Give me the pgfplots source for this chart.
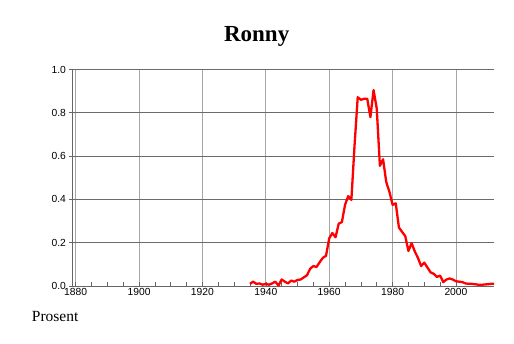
\documentclass[border=0pt]{standalone}
\usepackage{fontspec}
\setmainfont{Liberation Serif}
\newfontfamily\helv{Liberation Sans}
\usepackage{pgfplots}
\pgfplotsset{compat=1.18}
\begin{document}
\begin{tikzpicture}[x=1pt,y=1pt]
\useasboundingbox (-72.5,-57) rectangle (441.5,286);
\begin{axis}[
  at={(0,0)}, anchor=origin,
  scale only axis, width=421.5pt, height=216.5pt,
  xmin=1879, xmax=2012, ymin=0, ymax=1,
  axis x line*=bottom, axis y line*=left,
  axis line style={-, draw=black!60, line width=0.8pt},
  xtick={1880,1900,...,2000},
  minor x tick num=3,
  ytick={0,0.2,...,1.0},
  tick align=inside,
  major tick length=4pt, minor tick length=4pt,
  xtick style={draw=black!60, line width=0.6pt},
  ytick style={draw=black!60, line width=0.8pt, xshift=-3pt},
  xmajorgrids, ymajorgrids,
  x grid style={draw=black!35, line width=0.8pt, xshift=0pt},
  y grid style={draw=black!58, line width=0.8pt, xshift=0pt},
  tick label style={font=\helv\fontsize{10.3}{12}\selectfont},
  /pgf/number format/assume math mode=true,
  x tick label style={/pgf/number format/1000 sep={}, yshift=1pt},
  y tick label style={xshift=-3pt, /pgf/number format/fixed, /pgf/number format/fixed zerofill, /pgf/number format/precision=1},
  clip=false,
]
\addplot[red, line width=2.3pt, line join=round] coordinates {
(1935,0.01)(1936,0.02)(1937,0.01)(1938,0.012)(1939,0.006)(1940,0.01)(1941,0.006)(1942,0.012)(1943,0.02)(1944,0.002)
(1945,0.03)(1946,0.02)(1947,0.012)(1948,0.025)(1949,0.02)(1950,0.028)(1951,0.03)(1952,0.04)(1953,0.05)(1954,0.08)
(1955,0.092)(1956,0.088)(1957,0.11)(1958,0.13)(1959,0.14)(1960,0.22)(1961,0.245)(1962,0.225)(1963,0.288)(1964,0.295)
(1965,0.375)(1966,0.415)(1967,0.398)(1968,0.65)(1969,0.872)(1970,0.86)(1971,0.865)(1972,0.865)(1973,0.78)(1974,0.905)
(1975,0.82)(1976,0.555)(1977,0.585)(1978,0.48)(1979,0.435)(1980,0.375)(1981,0.382)(1982,0.27)(1983,0.25)(1984,0.23)
(1985,0.162)(1986,0.198)(1987,0.16)(1988,0.13)(1989,0.092)(1990,0.108)(1991,0.085)(1992,0.063)(1993,0.056)(1994,0.042)
(1995,0.048)(1996,0.018)(1997,0.03)(1998,0.035)(1999,0.03)(2000,0.022)(2001,0.02)(2002,0.018)(2003,0.012)(2004,0.01)
(2005,0.01)(2006,0.008)(2007,0.006)(2008,0.005)(2009,0.007)(2010,0.008)(2011,0.01)(2012,0.01)
};
\end{axis}
\node[font=\bfseries\fontsize{23}{26}\selectfont, anchor=base] at (184.2,244) {Ronny};
\node[font=\fontsize{15.5}{18}\selectfont, anchor=base west, inner sep=0pt] at (-40.8,-35.7) {Prosent};
\end{tikzpicture}
\end{document}
